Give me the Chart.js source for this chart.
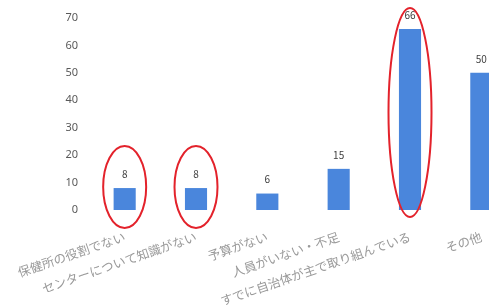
<!DOCTYPE html>
<html>
<head>
<meta charset="utf-8">
<script src="https://cdn.jsdelivr.net/npm/chart.js@4"></script>
<style>
  html, body { margin: 0; padding: 0; background: #fff; overflow: hidden; }
  #wrap { width: 530px; height: 305px; }
</style>
</head>
<body>
<div id="wrap"><canvas id="chart"></canvas></div>
<script>
var categories = [
  '保健所の役割でない',
  'センターについて知識がない',
  '予算がない',
  '人員がいない・不足',
  'すでに自治体が主で取り組んでいる',
  'その他'
];
var counts = [8, 8, 6, 15, 66, 50];
var yTicks = [0, 10, 20, 30, 40, 50, 60, 70];
var circled = [0, 1, 4];

// values above bars
var valueLabels = {
  id: 'valueLabels',
  afterDatasetsDraw: function (chart) {
    var ctx = chart.ctx;
    var meta = chart.getDatasetMeta(0);
    ctx.save();
    ctx.font = '10px "Noto Sans CJK JP", "DejaVu Sans", sans-serif';
    ctx.fillStyle = '#404040';
    ctx.textAlign = 'center';
    ctx.textBaseline = 'middle';
    meta.data.forEach(function (bar, i) {
      ctx.fillText(String(counts[i]), bar.x, bar.y - 14);
    });
    ctx.restore();
  }
};

// red rings drawn round some bars
var rings = {
  id: 'rings',
  afterDraw: function (chart) {
    var ctx = chart.ctx;
    var meta = chart.getDatasetMeta(0);
    ctx.save();
    ctx.strokeStyle = '#e3222b';
    ctx.lineWidth = 2;
    circled.forEach(function (i) {
      var bar = meta.data[i];
      var top = bar.y - (counts[i] > 30 ? 21 : 42);
      var bottom = bar.base + (counts[i] > 30 ? 7 : 18);
      ctx.beginPath();
      ctx.ellipse(bar.x, (top + bottom) / 2, 21.5, (bottom - top) / 2, 0, 0, Math.PI * 2);
      ctx.stroke();
    });
    ctx.restore();
  }
};

new Chart(document.getElementById('chart'), {
  type: 'bar',
  data: {
    labels: categories,
    datasets: [{
      data: counts,
      backgroundColor: '#4a86dc',
      barPercentage: 0.31,
      categoryPercentage: 1
    }]
  },
  plugins: [valueLabels, rings],
  options: {
    responsive: true,
    maintainAspectRatio: false,
    animation: false,
    layout: { padding: { left: 61, right: 13, top: 18, bottom: 0 } },
    plugins: { legend: { display: false }, tooltip: { enabled: false } },
    scales: {
      x: {
        grid: { display: false, drawTicks: false },
        border: { display: false },
        ticks: {
          autoSkip: false,
          minRotation: 19,
          maxRotation: 19,
          padding: 19,
          color: '#999999',
          font: { family: '"Noto Sans CJK JP", sans-serif', size: 12.5 }
        },
        afterFit: function (scale) {
          scale.height = 95;
          scale.paddingLeft = 0;
          scale.paddingRight = 0;
        }
      },
      y: {
        min: 0,
        max: 70,
        grid: { display: false, drawTicks: false },
        border: { display: false },
        afterBuildTicks: function (scale) {
          scale.ticks = yTicks.map(function (v) { return { value: v }; });
        },
        ticks: {
          padding: 11,
          color: '#595959',
          font: { family: '"Noto Sans", "DejaVu Sans", sans-serif', size: 11 }
        },
        afterFit: function (scale) { scale.width = 28; }
      }
    }
  }
});
</script>
</body>
</html>
